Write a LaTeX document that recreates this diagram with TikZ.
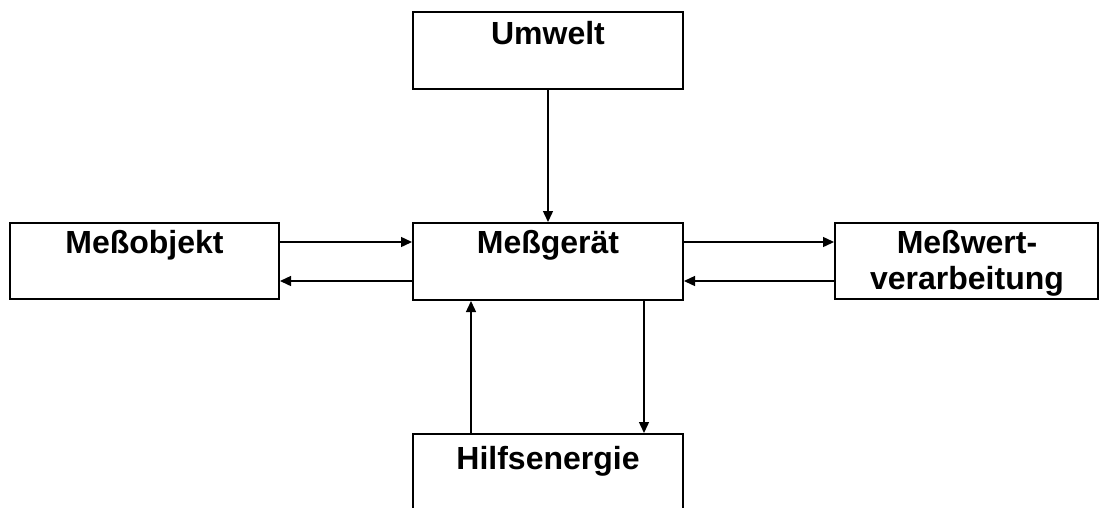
\documentclass[tikz,border=0pt]{standalone}
\usepackage{fontspec}
\setmainfont{Liberation Sans}
\usetikzlibrary{arrows.meta}
\begin{document}
\begin{tikzpicture}[x=1pt,y=-1pt,
  box/.style={draw=black,line width=2pt,rectangle,inner sep=0pt},
  lbl/.style={font=\fontsize{32}{36}\selectfont\bfseries,anchor=base,inner sep=0pt,align=center},
  arr/.style={line width=1.4pt,-{Triangle[length=11pt,width=10pt]}}]
\clip (0,0) rectangle (1105,507);
\fill[white] (0,0) rectangle (1105,507);
% boxes
\node[box,minimum width=270pt,minimum height=77pt] (umw) at (548,50.5) {};
\node[box,minimum width=269pt,minimum height=76pt] (obj) at (144.5,261) {};
\node[box,minimum width=270pt,minimum height=77pt] (ger) at (548,261.5) {};
\node[box,minimum width=263pt,minimum height=76pt] (mwv) at (966.5,261) {};
\node[box,minimum width=270pt,minimum height=90pt] (hil) at (548,479) {};
% labels
\node[lbl] (tumw) at (548,44) {Umwelt};
\node[lbl] (tobj) at (144.5,253) {Meßobjekt};
\node[lbl] (tger) at (548,253) {Meßgerät};
\node[lbl] (tmwv1) at (967,253) {Meßwert-};
\node[lbl] (tmwv2) at (967,289) {verarbeitung};
\node[lbl] (thil) at (548,469) {Hilfsenergie};
% connectors
\draw[arr] (umw.south) -- (ger.north);
\draw[arr] (obj.east |- 0,242) -- (ger.west |- 0,242);
\draw[arr] (ger.west |- 0,281) -- (obj.east |- 0,281);
\draw[arr] (ger.east |- 0,242) -- (mwv.west |- 0,242);
\draw[arr] (mwv.west |- 0,281) -- (ger.east |- 0,281);
\draw[arr] (hil.north -| 471,0) -- (ger.south -| 471,0);
\draw[arr] (ger.south -| 644,0) -- (hil.north -| 644,0);
\end{tikzpicture}
\end{document}
